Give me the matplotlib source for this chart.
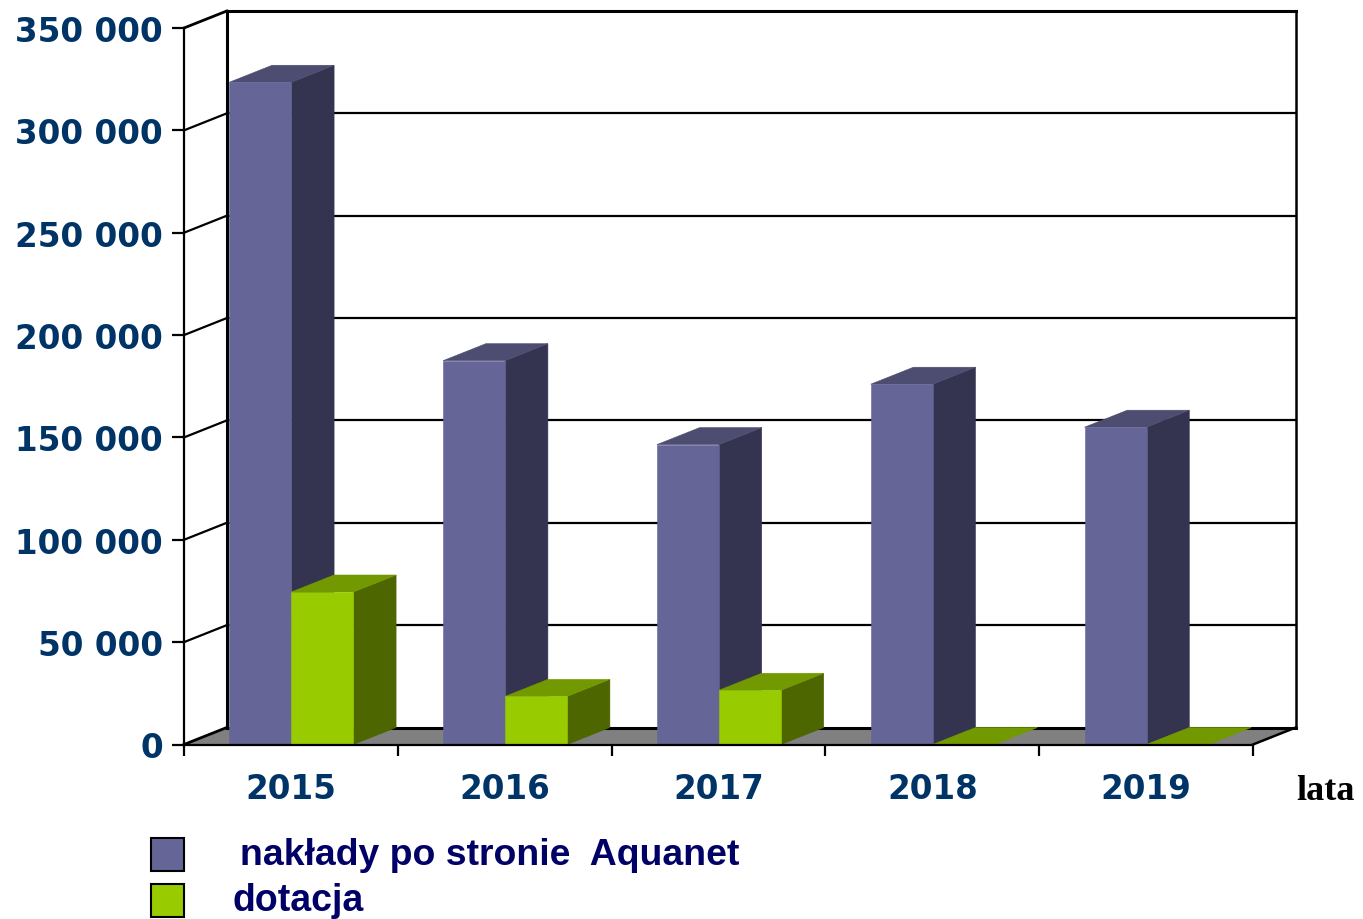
import matplotlib
matplotlib.use("Agg")
import matplotlib.pyplot as plt
from matplotlib.patches import Polygon, Rectangle

# data
years = ["2015", "2016", "2017", "2018", "2019"]
naklady = [323500, 187500, 146500, 176000, 155000]
dotacja = [74500, 23500, 26500, 0, 0]
y_ticks = [0, 50000, 100000, 150000, 200000, 250000, 300000, 350000]
y_labels = ["0", "50 000", "100 000", "150 000", "200 000", "250 000", "300 000", "350 000"]

W, H = 1363, 920
NAVY = "#003366"
LEGEND_NAVY = "#000066"

# depth of the fake 3d box, in data units
dx = 0.2
dy = 8300
bar_w = 0.29
bar_start = 0.212

plt.rcParams["font.family"] = ["Liberation Sans"]

fig = plt.figure(figsize=(W / 100, H / 100), dpi=100)
ax = fig.add_axes([184 / W, 1 - 745.5 / H, (1253 - 184) / W, (745.5 - 29) / H])
ax.set_xlim(0, 5)
ax.set_ylim(0, 350000)
ax.patch.set_visible(False)
for s in ["top", "right"]:
    ax.spines[s].set_visible(False)
for s in ["left", "bottom"]:
    ax.spines[s].set_linewidth(1.6)
ax.spines["bottom"].set_zorder(20)


def poly(pts, color, z=3, lw=0.4):
    ax.add_patch(Polygon(pts, closed=True, facecolor=color, edgecolor=color,
                         linewidth=lw, clip_on=False, zorder=z))


def line(xs, ys, lw=1.6, z=2):
    ax.plot(xs, ys, color="black", lw=lw, clip_on=False, zorder=z,
            solid_capstyle="projecting")


def bar3d(x, h, front, side, top, z):
    w = bar_w
    if h > 0:
        poly([(x, 0), (x + w, 0), (x + w, h), (x, h)], front, z + 0.2)
        poly([(x + w, 0), (x + w + dx, dy), (x + w + dx, h + dy), (x + w, h)], side, z)
    poly([(x, h), (x + w, h), (x + w + dx, h + dy), (x + dx, h + dy)], top, z)


# floor
poly([(0, 0), (5, 0), (5 + dx, dy), (dx, dy)], "#808080", 1)

# walls and grid
for v in y_ticks:
    lw = 2.2 if v in (0, 350000) else 1.6
    line([dx, 5 + dx], [v + dy, v + dy], lw=lw)
    line([0, dx], [v, v + dy], lw=2.0 if v in (0, 350000) else 1.6)
line([dx, dx], [dy, 350000 + dy], lw=2.2)
line([5 + dx, 5 + dx], [dy, 350000 + dy], lw=1.8)
line([5, 5 + dx], [0, dy], lw=1.8)

# bars
for i in range(len(years)):
    x = i + bar_start
    bar3d(x, naklady[i], "#656598", "#343450", "#4d4d72", 4 + i)
    bar3d(x + bar_w, dotacja[i], "#99cc00", "#4d6600", "#739900", 4.5 + i)

# axis ticks and labels
ax.set_yticks(y_ticks)
ax.set_yticklabels(y_labels, fontsize=23.5, fontweight="bold", color=NAVY, family="DejaVu Sans")
ax.set_xticks(range(6))
ax.set_xticklabels([])
ax.set_xticks([i + 0.5 for i in range(5)], minor=True)
ax.set_xticklabels(years, minor=True, fontsize=23.5, fontweight="bold", color=NAVY, family="DejaVu Sans")
ax.tick_params(axis="y", length=9, width=1.6, pad=6)
ax.tick_params(axis="x", which="major", length=8, width=1.6)
ax.tick_params(axis="x", which="minor", length=0, pad=20)

fig.text(1296 / W, 1 - 792 / H, "lata", family="Liberation Serif", fontweight="bold",
         fontsize=26, color="black", ha="left", va="center")

# legend
for top, col in [(839, "#656598"), (885, "#99cc00")]:
    fig.add_artist(Rectangle((151 / W, 1 - (top + 33) / H), 33 / W, 33 / H, facecolor=col,
                             edgecolor="black", linewidth=1.5, transform=fig.transFigure))
fig.text(240 / W, 1 - 856 / H, "nakłady po stronie  Aquanet", fontsize=26.9, fontweight="bold",
         color=LEGEND_NAVY, ha="left", va="center")
fig.text(232 / W, 1 - 901 / H, "dotacja", fontsize=27, fontweight="bold",
         color=LEGEND_NAVY, ha="left", va="center")

fig.savefig("out.png", dpi=100)
